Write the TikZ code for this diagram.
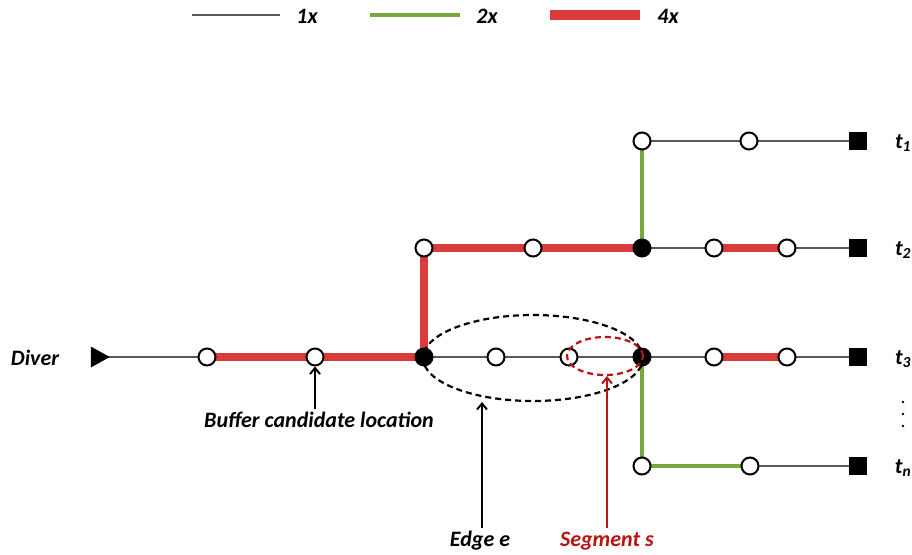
\documentclass[tikz,border=0pt]{standalone}
\usepackage{fontspec}
\setmainfont{Carlito}
\usetikzlibrary{shapes.geometric,backgrounds,arrows.meta}
\definecolor{wire1}{HTML}{595959}
\definecolor{wire2}{HTML}{77A83A}
\definecolor{wire4}{HTML}{DA3B3B}
\definecolor{segred}{HTML}{B81414}
\tikzset{
  w1/.style={draw=wire1,line width=2pt},
  w2/.style={draw=wire2,line width=3.2pt},
  w4/.style={draw=wire4,line width=8pt},
  opennode/.style={circle,draw=black,fill=white,line width=2pt,minimum size=17pt,inner sep=0pt},
  pinnode/.style={circle,fill=black,minimum size=19pt,inner sep=0pt},
  sinknode/.style={rectangle,fill=black,minimum size=18pt,inner sep=0pt},
  dotnode/.style={circle,fill=black,minimum size=2.6pt,inner sep=0pt},
  lbl/.style={font=\fontsize{22}{24}\selectfont\bfseries\itshape},
  tlbl/.style={font=\fontsize{22}{24}\selectfont\bfseries\itshape},
}
\begin{document}
\begin{tikzpicture}[x=1pt,y=-1pt]
\useasboundingbox (0,0) rectangle (912,554);

% legend
\coordinate (l1a) at (192,15); \coordinate (l1b) at (280,15);
\coordinate (l2a) at (370,15); \coordinate (l2b) at (460,15);
\coordinate (l4a) at (550,15); \coordinate (l4b) at (640,15);
\draw[w1,line width=2.5pt] (l1a) -- (l1b);
\draw[w2,line width=4pt] (l2a) -- (l2b);
\draw[w4,line width=10pt] (l4a) -- (l4b);
\node[lbl] (k1) at (307,16) {1x};
\node[lbl] (k2) at (487,16) {2x};
\node[lbl] (k4) at (668,16) {4x};

% driver
\node[lbl] (drvlbl) at (35,358) {Diver};
\node[isosceles triangle,fill=black,minimum height=19pt,minimum width=21pt,
      inner sep=0pt,isosceles triangle stretches] (drv) at (97,357) {};

% row 1 (t1)
\node[opennode] (a1) at (642,141) {};
\node[opennode] (a2) at (749,141) {};
\node[sinknode] (t1) at (858,141) {};

% row 2 (t2)
\node[opennode] (b0) at (424,248) {};
\node[opennode] (b1) at (533,248) {};
\node[pinnode]  (b2) at (642,248) {};
\node[opennode] (b3) at (714,248) {};
\node[opennode] (b4) at (787,248) {};
\node[sinknode] (t2) at (858,248) {};

% row 3 (t3)
\node[opennode] (c1) at (207,357) {};
\node[opennode] (c2) at (315,357) {};
\node[pinnode]  (c3) at (424,357) {};
\node[opennode] (c4) at (496,357) {};
\node[opennode] (c5) at (569,357) {};
\node[pinnode]  (c6) at (642,357) {};
\node[opennode] (c7) at (714,357) {};
\node[opennode] (c8) at (787,357) {};
\node[sinknode] (t3) at (858,357) {};

% row n (tn)
\node[opennode] (d1) at (642,466) {};
\node[opennode] (d2) at (750,466) {};
\node[sinknode] (tn) at (858,466) {};

% sink labels
\node[tlbl] (lt1) at (903,143) {t\textsubscript{1}};
\node[tlbl] (lt2) at (903,250) {t\textsubscript{2}};
\node[tlbl] (lt3) at (903,359) {t\textsubscript{3}};
\node[tlbl] (ltn) at (903,468) {t\textsubscript{n}};
\node[dotnode] (vd1) at (903,402) {};
\node[dotnode] (vd2) at (903,414) {};
\node[dotnode] (vd3) at (903,426) {};

% wires
\begin{scope}[on background layer]
  \draw[w1] (a1.center) -- (a2.center) -- (t1.center);
  \draw[w2] (a1.center) -- (b2.center);
  \draw[w4] (b0.center) -- (b1.center) -- (b2.center);
  \draw[w1] (b2.center) -- (b3.center);
  \draw[w4] (b3.center) -- (b4.center);
  \draw[w1] (b4.center) -- (t2.center);
  \draw[w4] (c3.center) -- (b0.center);
  \draw[w1] (drv.center) -- (c1.center);
  \draw[w4] (c1.center) -- (c2.center) -- (c3.center);
  \draw[w1] (c3.center) -- (c4.center) -- (c5.center) -- (c6.center) -- (c7.center);
  \draw[w4] (c7.center) -- (c8.center);
  \draw[w1] (c8.center) -- (t3.center);
  \draw[w2] (c6.center) -- (d1.center) -- (d2.center);
  \draw[w1] (d2.center) -- (tn.center);
\end{scope}

% edge and segment outlines
\node[ellipse,draw=black,dash pattern=on 6pt off 4pt,line width=2.2pt,
      minimum width=220pt,minimum height=86pt,inner sep=0pt] (edge) at (533,358) {};
\node[ellipse,draw=segred,dash pattern=on 6pt off 4pt,line width=2.2pt,
      minimum width=76pt,minimum height=38pt,inner sep=0pt] (seg) at (605,356) {};

% annotations
\node[lbl] (buflbl) at (319,420) {Buffer candidate location};
\draw[-{Straight Barb[length=6pt,width=10pt]},line width=2pt] (buflbl.north -| c2) -- (c2.south);
\node[lbl] (edgelbl) at (480,541) {Edge e};
\coordinate (edgetip) at (482,402);
\draw[-{Straight Barb[length=6pt,width=10pt]},line width=2pt] (edgelbl.north -| edgetip) -- (edgetip);
\node[lbl,text=segred] (seglbl) at (607,541) {Segment s};
\coordinate (segtip) at (607,376);
\draw[segred,-{Straight Barb[length=6pt,width=10pt]},line width=2pt] (seglbl.north -| segtip) -- (segtip);
\end{tikzpicture}
\end{document}
